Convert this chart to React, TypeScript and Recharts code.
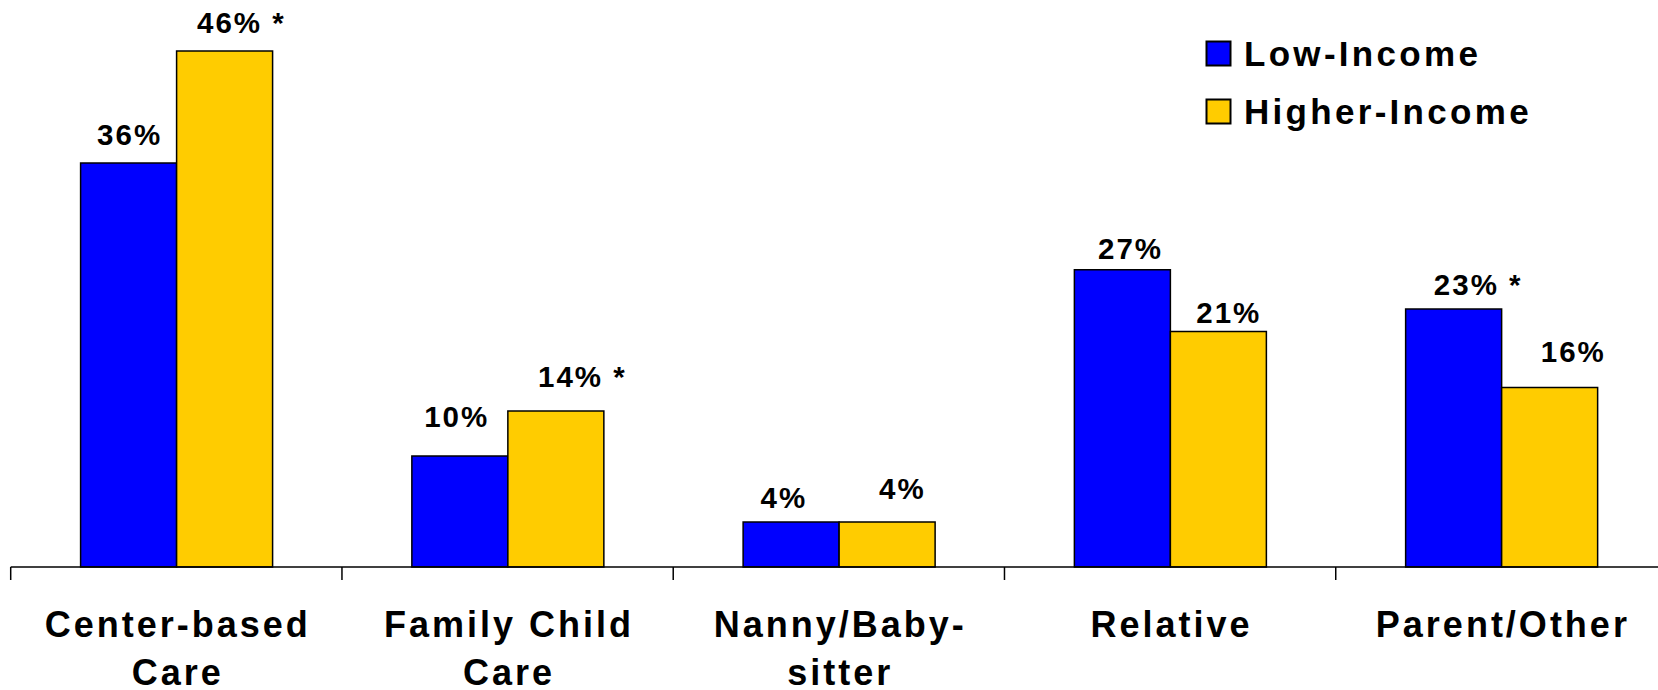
import React from 'react';
import { BarChart, Bar, XAxis, YAxis, Legend, LabelList } from 'recharts';

// ---- data ----
const CATEGORIES = ['Center-based Care', 'Family Child Care', 'Nanny/Baby-sitter', 'Relative', 'Parent/Other'];
const CATEGORY_LINES = [['Center-based', 'Care'], ['Family Child', 'Care'], ['Nanny/Baby-', 'sitter'], ['Relative'], ['Parent/Other']];
const SERIES_NAMES = ['Low-Income', 'Higher-Income'];
const LOW_INCOME = [36, 9.9, 4, 26.5, 23];
const HIGHER_INCOME = [46, 13.9, 4, 21, 16];
const LOW_LABELS = ['36%', '10%', '4%', '27%', '23% *'];
const HIGH_LABELS = ['46% *', '14% *', '4%', '21%', '16%'];

// ---- style ----
const BLUE = '#0000FF';
const GOLD = '#FFCC00';
const FONT = '"Liberation Sans", Arial, Helvetica, sans-serif';
const LABEL_SIZE = 29.5;
const LABEL_LS = 2;
// label nudges [dx from bar centre, baseline gap above bar top]
const LOW_NUDGE = [[0, 18.4], [-4.2, 29], [-8.3, 14.4], [7.2, 10.7], [23.6, 14.4]];
const HIGH_NUDGE = [[15.8, 17.4], [25.5, 23.7], [14.2, 23.4], [9.4, 8.4], [22.7, 25]];

const CHART_W = 1667;
const CHART_H = 690;
const MARGIN = { top: 6, right: 0, bottom: 3, left: 10.7 };
const BAND_HALF = (CHART_W - MARGIN.left - MARGIN.right) / CATEGORIES.length / 2;

const data = CATEGORIES.map((c, i) => ({
  category: c,
  low: LOW_INCOME[i],
  high: HIGHER_INCOME[i],
  lowLabel: LOW_LABELS[i],
  highLabel: HIGH_LABELS[i],
}));

const makeLabel = (labels: string[], nudges: number[][]) => (props: any) => {
  const { x, y, width, value } = props;
  let i = labels.indexOf(String(value));
  if (i < 0 && typeof props.index === 'number') i = props.index;
  const [dx, dy] = nudges[i] || [0, 10];
  return (
    <text
      x={Number(x) + Number(width) / 2 + dx + LABEL_LS / 2}
      y={Number(y) - dy}
      textAnchor="middle"
      fontFamily={FONT}
      fontWeight="bold"
      fontSize={LABEL_SIZE}
      letterSpacing={LABEL_LS}
      fill="#000"
    >
      {value}
    </text>
  );
};

const CategoryTick = (props: any) => {
  const { x, y, payload } = props;
  const half = payload && typeof payload.offset === 'number' && payload.offset > 0 ? payload.offset : BAND_HALF;
  let idx = CATEGORIES.indexOf(payload?.value);
  if (idx < 0) idx = payload?.index ?? 0;
  const lines = CATEGORY_LINES[idx] || [String(payload?.value)];
  return (
    <g>
      <line x1={x - half} y1={y} x2={x - half} y2={y + 13} stroke="#000" strokeWidth={1.5} />
      {lines.map((ln, k) => (
        <text
          key={k}
          x={x + 1.5}
          y={y + 69.7 + k * 48.5}
          textAnchor="middle"
          fontFamily={FONT}
          fontWeight="bold"
          fontSize={36}
          letterSpacing={3}
          fill="#000"
        >
          {ln}
        </text>
      ))}
    </g>
  );
};

const LegendContent = () => (
  <svg width={380} height={140} style={{ display: 'block', overflow: 'visible' }}>
    {SERIES_NAMES.map((name, i) => (
      <g key={name}>
        <rect x={1.5} y={3.5 + i * 58} width={24} height={24} fill={i === 0 ? BLUE : GOLD} stroke="#000" strokeWidth={2} />
        <text
          x={39}
          y={28 + i * 57.5}
          fontFamily={FONT}
          fontWeight="bold"
          fontSize={35}
          letterSpacing={3.3}
          fill="#000"
        >
          {name}
        </text>
      </g>
    ))}
  </svg>
);

export default function App() {
  return (
    <div
      style={{
        position: 'fixed',
        left: 0,
        top: 0,
        width: 1658,
        height: 690,
        overflow: 'hidden',
        background: '#fff',
      }}
    >
      <BarChart
        width={CHART_W}
        height={CHART_H}
        data={data}
        margin={MARGIN}
        barCategoryGap="21.1%"
        barGap={0}
      >
        <XAxis
          dataKey="category"
          height={120}
          interval={0}
          tickSize={0}
          tickMargin={0}
          tickLine={false}
          axisLine={{ stroke: '#000', strokeWidth: 1.5 }}
          tick={<CategoryTick />}
        />
        <YAxis hide width={0} domain={[0, 50]} type="number" />
        <Legend
          layout="vertical"
          align="center"
          verticalAlign="middle"
          wrapperStyle={{ left: 1205, top: 38, width: 380, height: 140 }}
          content={<LegendContent />}
        />
        <Bar dataKey="low" name={SERIES_NAMES[0]} fill={BLUE} stroke="#000" strokeWidth={1.5} isAnimationActive={false}>
          <LabelList dataKey="lowLabel" content={makeLabel(LOW_LABELS, LOW_NUDGE)} />
        </Bar>
        <Bar dataKey="high" name={SERIES_NAMES[1]} fill={GOLD} stroke="#000" strokeWidth={1.5} isAnimationActive={false}>
          <LabelList dataKey="highLabel" content={makeLabel(HIGH_LABELS, HIGH_NUDGE)} />
        </Bar>
      </BarChart>
    </div>
  );
}
